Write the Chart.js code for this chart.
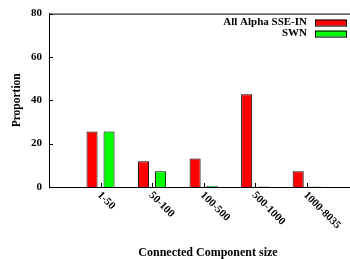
<!doctype html>
<html lang="en">
<head>
<title>Connected Component size</title>
<script src="https://cdn.jsdelivr.net/npm/chart.js@4/dist/chart.umd.min.js"></script>
<style>
  body { margin: 0; overflow: hidden; background: #fff; }
  #wrap { width: 350px; height: 259px; overflow: hidden; }
</style>
</head>
<body>
<div id="wrap"><canvas id="myChart" width="367" height="259"></canvas></div>
<script>
const categories = ['1-50', '50-100', '100-500', '500-1000', '1000-8035'];
const alphaSseIn = [25.6, 11.9, 13.1, 42.8, 7.3];
const swn = [25.6, 7.3, 0.5, 0.2, 0.2];
const yTicks = [0, 20, 40, 60, 80];
const seriesNames = ['All Alpha SSE-IN', 'SWN'];

const serif = '"Liberation Serif", "Times New Roman", serif';
const toPoints = values => values.map((v, i) => ({ x: i, y: v }));

// gnuplot look: top border, inward ticks, slanted labels, legend inside plot
const gnuplotFrame = {
  id: 'gnuplotFrame',
  afterDraw(chart) {
    const { ctx, chartArea: area, scales: { x, y } } = chart;
    ctx.save();
    ctx.strokeStyle = '#000';
    ctx.lineWidth = 1;
    ctx.beginPath();
    ctx.moveTo(area.left, area.top + 0.5);
    ctx.lineTo(area.right, area.top + 0.5);
    yTicks.forEach(v => {
      const py = Math.round(y.getPixelForValue(v)) + 0.5;
      ctx.moveTo(area.left, py);
      ctx.lineTo(area.left + 4, py);
    });
    categories.forEach((_, i) => {
      const px = Math.round(x.getPixelForValue(i)) + 0.5;
      ctx.moveTo(px, area.bottom);
      ctx.lineTo(px, area.bottom - 4);
    });
    ctx.stroke();

    ctx.fillStyle = '#000';
    ctx.font = 'bold 11px ' + serif;
    ctx.textAlign = 'left';
    ctx.textBaseline = 'middle';
    categories.forEach((label, i) => {
      ctx.save();
      ctx.translate(x.getPixelForValue(i) - 1.5, area.bottom + 6.5);
      ctx.rotate(Math.PI / 4);
      ctx.fillText(label, 0, 0);
      ctx.restore();
    });

    ctx.textAlign = 'right';
    chart.data.datasets.forEach((ds, i) => {
      const cy = area.top + 9 + i * 11;
      ctx.fillStyle = '#000';
      ctx.fillText(seriesNames[i], area.right - 60, cy);
      ctx.fillStyle = ds.backgroundColor;
      ctx.fillRect(area.right - 52, cy - 3, 31, 6);
      ctx.strokeRect(area.right - 52 + 0.5, cy - 3 + 0.5, 31, 6);
    });
    ctx.restore();
  }
};

new Chart(document.getElementById('myChart'), {
  type: 'bar',
  data: {
    datasets: [{
      label: seriesNames[0],
      data: toPoints(alphaSseIn),
      backgroundColor: '#ff0000',
      borderColor: '#000',
      borderWidth: 1
    }, {
      label: seriesNames[1],
      data: toPoints(swn),
      backgroundColor: '#00ff00',
      borderColor: '#000',
      borderWidth: 1
    }]
  },
  options: {
    responsive: false,
    animation: false,
    categoryPercentage: 0.66,
    barPercentage: 0.65,
    layout: { padding: { top: 12, right: 0, left: 0, bottom: 0 } },
    plugins: {
      legend: { display: false },
      tooltip: { enabled: false }
    },
    scales: {
      x: {
        type: 'linear',
        offset: false,
        min: -1,
        max: 5.17,
        ticks: { display: false },
        grid: { display: false, drawTicks: false },
        border: { display: true, color: '#000', width: 1 },
        title: {
          display: true,
          text: 'Connected Component size',
          color: '#000',
          font: { family: serif, size: 12, weight: 'bold' },
          padding: { top: 0, bottom: -1.5 }
        },
        afterFit: s => { s.height = 72; }
      },
      y: {
        min: 0,
        max: 80,
        ticks: {
          stepSize: 20,
          color: '#000',
          padding: 7,
          font: { family: serif, size: 11, weight: 'bold' }
        },
        grid: { display: false, drawTicks: false },
        border: { display: true, color: '#000', width: 1 },
        title: {
          display: true,
          text: 'Proportion',
          color: '#000',
          font: { family: serif, size: 11.5, weight: 'bold' },
          padding: { top: 10.5, bottom: 0 }
        },
        afterFit: s => { s.width = 49; }
      }
    }
  },
  plugins: [gnuplotFrame]
});
</script>
</body>
</html>
